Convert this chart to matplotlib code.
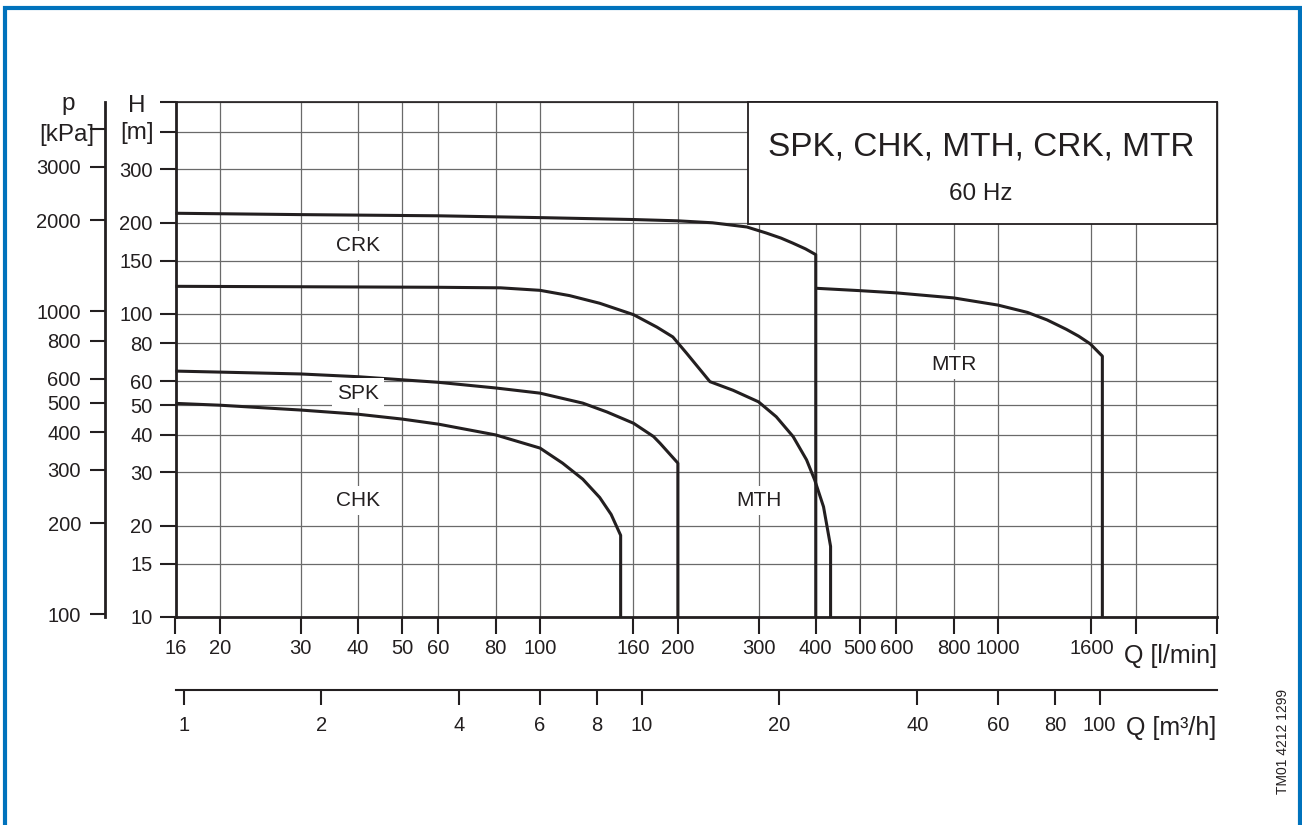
import matplotlib
matplotlib.use("Agg")
import matplotlib.pyplot as plt
from matplotlib.lines import Line2D
from matplotlib.patches import Rectangle
from matplotlib.ticker import NullLocator

# pump curves, Q in l/min, H in m (each ends with a vertical drop to the axis floor)
crk_q = [16, 30, 60, 100, 160, 200, 238, 283, 312, 336, 356, 380, 400]
crk_h = [215, 212.8, 210.9, 208, 205, 203, 200, 193.7, 185, 178, 171.5, 164, 157]

mth_q = [16, 30, 60, 82, 100, 116, 135, 160, 180, 195, 209, 235, 264, 300, 328, 357, 382, 398, 416, 431]
mth_h = [123.4, 123, 122.5, 122, 119.7, 115, 108.5, 99.5, 90.5, 84, 74.2, 59.8, 56, 51.3, 45.8, 39.4, 33, 28.3, 23.1, 17.1]

spk_q = [16, 20, 30, 40, 60, 80, 100, 124, 140, 160, 177, 183, 200]
spk_h = [64.8, 64.3, 63.4, 62.1, 59.5, 57, 54.8, 50.8, 47.5, 43.6, 39.4, 37.4, 32.2]

chk_q = [16, 20, 30, 40, 50, 60, 80, 100, 112, 124, 135, 143, 150]
chk_h = [50.7, 50, 48.2, 46.7, 45, 43.3, 39.9, 36.1, 32.2, 28.5, 24.8, 21.8, 18.6]

mtr_q = [400, 500, 600, 800, 1000, 1160, 1280, 1410, 1500, 1590, 1690]
mtr_h = [121.6, 119.4, 117.4, 113, 107, 101.2, 95.6, 89, 84.5, 79.7, 72.6]

series_names = ["CRK", "SPK", "CHK", "MTH", "MTR"]

q_ticks = [16, 20, 30, 40, 50, 60, 80, 100, 160, 200, 300, 400, 500, 600, 800, 1000, 1600, 2000, 3000]
q_labels = ["16", "20", "30", "40", "50", "60", "80", "100", "160", "200", "300", "400",
            "500", "600", "800", "1000", "1600", "", ""]
h_ticks = [10, 15, 20, 30, 40, 50, 60, 80, 100, 150, 200, 300, 400, 500]
h_labels = ["10", "15", "20", "30", "40", "50", "60", "80", "100", "150", "200", "300", "", ""]
p_ticks = [100, 200, 300, 400, 500, 600, 800, 1000, 2000, 3000, 4000]
p_labels = ["100", "200", "300", "400", "500", "600", "800", "1000", "2000", "3000", ""]
m3h_ticks = [1, 2, 4, 6, 8, 10, 20, 40, 60, 80, 100]

KPA_PER_M = 9.81
M3H_PER_LMIN = 0.06

INK = "#231f20"
BLUE = "#0072bc"
W, H = 1302, 825

plt.rcParams["font.family"] = ["Liberation Sans", "DejaVu Sans"]

fig = plt.figure(figsize=(W / 100, H / 100), dpi=100)
fig.set_facecolor("white")

# main axes (H in m vs Q in l/min)
left, right, bottom, top = 175.5, 1216.5, 617, 102.2
rect = [left / W, 1 - bottom / H, (right - left) / W, (bottom - top) / H]
ax = fig.add_axes(rect)
ax.set_xscale("log")
ax.set_yscale("log")
ax.set_xlim(16, 3000)
ax.set_ylim(10, 500)
ax.xaxis.set_minor_locator(NullLocator())
ax.yaxis.set_minor_locator(NullLocator())
ax.set_xticks(q_ticks)
ax.set_xticklabels(q_labels)
ax.set_yticks(h_ticks)
ax.set_yticklabels(h_labels)
ax.grid(True, which="major", color="#6a6a6a", linewidth=0.9, zorder=0)
ax.set_axisbelow(True)
ax.tick_params(axis="y", direction="out", length=11.5, width=1.5, pad=5,
               labelsize=14.5, colors=INK)
ax.tick_params(axis="x", direction="out", length=12, width=1.5, pad=4,
               labelsize=14.5, colors=INK)
ax.spines["left"].set_linewidth(2)
ax.spines["bottom"].set_linewidth(2)
ax.spines["top"].set_linewidth(1.2)
ax.spines["right"].set_linewidth(1.0)
for s in ax.spines.values():
    s.set_color(INK)

# curves
curves = [(crk_q, crk_h), (spk_q, spk_h), (chk_q, chk_h), (mth_q, mth_h), (mtr_q, mtr_h)]
for q, h in curves:
    ax.plot(q + [q[-1]], h + [10], color=INK, linewidth=2.2,
            solid_joinstyle="round", solid_capstyle="butt", zorder=3, clip_on=False)

# curve labels
label_pos = [(40, 168), (40, 54.8), (40, 24.2), (300, 24.2), (800, 68.2)]
for name, (lq, lh) in zip(series_names, label_pos):
    ax.text(lq, lh, name, ha="center", va="center", fontsize=15, color=INK, zorder=4,
            bbox=dict(boxstyle="square,pad=0.25", fc="white", ec="none"))

# title box
ax.add_patch(Rectangle((0.55, 0.763), 0.45, 0.237, transform=ax.transAxes,
                       facecolor="white", edgecolor=INK, linewidth=1.3, zorder=5,
                       clip_on=False))
ax.text(0.774, 0.897, "SPK, CHK, MTH, CRK, MTR", transform=ax.transAxes, ha="center",
        va="baseline", fontsize=24, color=INK, zorder=6)
ax.text(0.774, 0.8097, "60 Hz", transform=ax.transAxes, ha="center", va="baseline",
        fontsize=17.5, color=INK, zorder=6)

# axis unit texts
ax.text(1.0, (617 - 663) / 515, "Q [l/min]", transform=ax.transAxes, ha="right",
        va="baseline", fontsize=18, color=INK)
fig.text(137 / W, 1 - 106 / H, "H", ha="center", va="center", fontsize=17.5, color=INK)
fig.text(137 / W, 1 - 133 / H, "[m]", ha="center", va="center", fontsize=17.5, color=INK)
fig.text(68 / W, 1 - 104 / H, "p", ha="center", va="center", fontsize=17.5, color=INK)
fig.text(67 / W, 1 - 135 / H, "[kPa]", ha="center", va="center", fontsize=17.5, color=INK)

# pressure axis on the far left
ax_p = fig.add_axes(rect)
ax_p.patch.set_visible(False)
ax_p.set_yscale("log")
ax_p.set_ylim(10 * KPA_PER_M, 500 * KPA_PER_M)
ax_p.yaxis.set_minor_locator(NullLocator())
ax_p.set_yticks(p_ticks)
ax_p.set_yticklabels(p_labels)
ax_p.xaxis.set_visible(False)
for k in ["top", "right", "bottom"]:
    ax_p.spines[k].set_visible(False)
ax_p.spines["left"].set_position(("axes", (105 - left) / (right - left)))
ax_p.spines["left"].set_linewidth(2)
ax_p.spines["left"].set_color(INK)
ax_p.tick_params(axis="y", direction="out", length=10.8, width=1.5, pad=6.5,
                 labelsize=14.5, colors=INK)

# flow axis in m3/h below
ax_m = fig.add_axes([left / W, 1 - 690 / H, (right - left) / W, 0.0001])
ax_m.patch.set_visible(False)
ax_m.set_xscale("log")
ax_m.set_xlim(16 * M3H_PER_LMIN, 3000 * M3H_PER_LMIN)
ax_m.xaxis.set_minor_locator(NullLocator())
ax_m.set_xticks(m3h_ticks)
ax_m.set_xticklabels([str(t) for t in m3h_ticks])
ax_m.yaxis.set_visible(False)
for k in ["top", "right", "left"]:
    ax_m.spines[k].set_visible(False)
ax_m.spines["bottom"].set_linewidth(1.5)
ax_m.spines["bottom"].set_color(INK)
ax_m.tick_params(axis="x", direction="out", length=10.8, width=1.5, pad=8,
                 labelsize=14.5, colors=INK)
ax.text(1.0, (617 - 735) / 515, "Q [m³/h]", transform=ax.transAxes, ha="right",
        va="baseline", fontsize=18, color=INK)

# drawing reference and blue frame
fig.text(1283 / W, 1 - 742 / H, "TM01 4212 1299", rotation=90, ha="center", va="center",
         fontsize=10, color=INK)
fig.add_artist(Line2D([5 / W, 5 / W, 1299.5 / W, 1299.5 / W],
                      [0, 1 - 8 / H, 1 - 8 / H, 0],
                      transform=fig.transFigure, color=BLUE, linewidth=3,
                      solid_joinstyle="miter"))

fig.savefig("out.png", dpi=100, facecolor="white")
